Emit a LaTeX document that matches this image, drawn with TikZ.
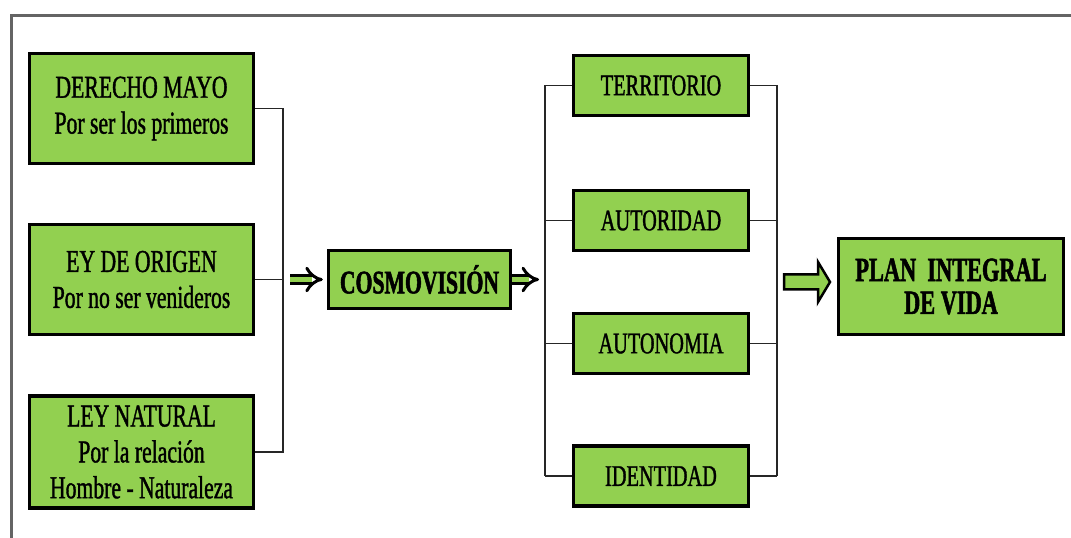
\documentclass[tikz,border=0pt]{standalone}
\usepackage{fontspec}
\setmainfont{Liberation Serif}[FakeStretch=0.68]
\newfontfamily\boxfont{Liberation Serif}[FakeStretch=0.68, FakeBold=1.2]
\newfontfamily\headfont{Liberation Serif Bold}[FakeStretch=0.66, FakeBold=1.5]
\usetikzlibrary{arrows.meta}
\definecolor{boxgreen}{RGB}{146,208,80}
\definecolor{framegray}{RGB}{100,100,100}

\begin{document}
\begin{tikzpicture}[x=1bp,y=-1bp,
	box/.style={draw=black, line width=3.5bp, fill=boxgreen, align=center, inner sep=0pt},
	leftbox/.style={box, minimum width=224bp, minimum height=110bp, font=\boxfont\fontsize{32}{36}\selectfont},
	rightbox/.style={box, minimum width=175bp, minimum height=60bp, font=\boxfont\fontsize{30}{34}\selectfont},
	link/.style={line width=1.3bp, draw=black!85},
	dblarrow/.style={double=boxgreen, double distance=5.5bp, line width=3bp, -{Implies}},
	bigarrow/.style={draw=black, fill=boxgreen, line width=2.5bp, line join=miter}]
%\draw [help lines] (0,0) grid[step=50] (1071,538);
\useasboundingbox (0,0) rectangle (1071,538);

% frame
\draw [framegray, line width=3bp] (11,538) -- (11,16) -- (1071,16);

% left column
\node [leftbox] (derecho) at (141.5,108.5) {DERECHO MAYO\\Por ser los primeros};
\node [leftbox] (origen) at (141.5,279.5) {EY DE ORIGEN\\Por no ser venideros};
\node [leftbox, minimum height=112bp] (ley) at (141.5,452) {LEY NATURAL\\Por la relación\\Hombre - Naturaleza};
\coordinate (jL) at (283,279.5);
\draw [link] (derecho.east) -| (jL) |- (ley.east);
\draw [link] (origen) -- (jL);

% middle
\node [box, minimum width=182bp, minimum height=58bp, font=\headfont\fontsize{33}{36}\selectfont] (cosmo) at (419.5,279.5) {COSMOVISIÓN};
\draw [dblarrow, shorten <=7bp, shorten >=4bp] (jL) -- (cosmo);

% right column
\foreach \name/\txt/\y in {terr/TERRITORIO/85.5, auto/AUTORIDAD/220.5, auton/AUTONOMIA/343.5, ident/IDENTIDAD/476}
	\node [rightbox] (\name) at (661,\y) {\txt};
\coordinate (kL) at (545,279.5);
\coordinate (kR) at (777,282);
\foreach \name in {terr,auto,auton,ident}
	\draw [link] (\name.west) -- (\name.west -| kL)
		(\name.east) -- (\name.east -| kR);
\draw [link] (terr.west -| kL) -- (ident.west -| kL);
\draw [link] (terr.east -| kR) -- (ident.east -| kR);
\draw [dblarrow, shorten >=6bp] (cosmo) -- (kL);

% result
\node [box, minimum width=225bp, minimum height=96bp, font=\headfont\fontsize{34}{33}\selectfont] (plan) at (951,286.5) {PLAN~~INTEGRAL\\DE VIDA};
\draw [bigarrow] (kR) ++(7,-7.5) -- ++(34,0) -- ++(0,-12.5) -- ++(12,20) -- ++(-12,20) -- ++(0,-12.5) -- ++(-34,0) -- cycle;

\end{tikzpicture}
\end{document}
